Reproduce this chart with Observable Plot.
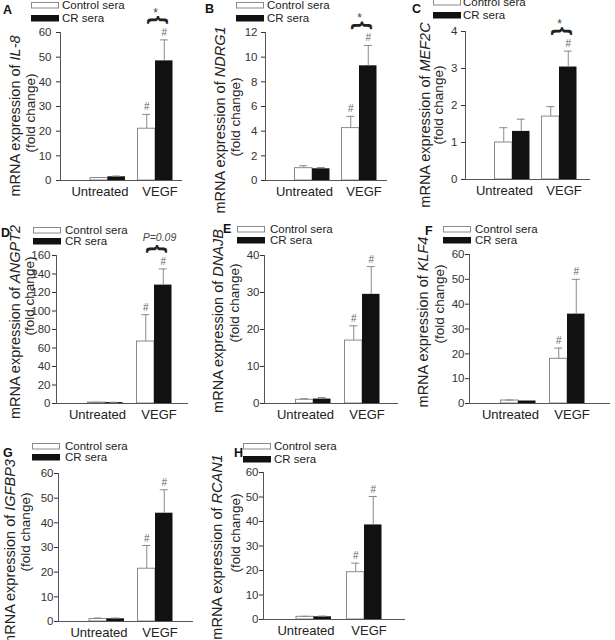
<!DOCTYPE html>
<html><head><meta charset="utf-8">
<script src="https://cdn.jsdelivr.net/npm/d3@7"></script>
<script src="https://cdn.jsdelivr.net/npm/@observablehq/plot@0.6"></script>
<style>
body{margin:0;background:#fff;font-family:"Liberation Sans",Arial,sans-serif;}
#fig{position:relative;width:615px;height:640px;overflow:hidden;background:#fff;}
.panel{position:absolute;}
#overlay{position:absolute;left:0;top:0;pointer-events:none;}
</style></head>
<body><div id="fig"></div>
<script>
// ---------- data ----------
const groups = ["Untreated", "VEGF"];
const seriesNames = ["Control sera", "CR sera"];
const panelLetters = ["A","B","C","D","E","F","G","H"];
const genes = ["IL-8","NDRG1","MEF2C","ANGPT2","DNAJB","KLF4","IGFBP3","RCAN1"];
const yMax  = [60, 12, 4, 160, 40, 60, 60, 60];
const yStep = [10, 2, 1, 20, 10, 10, 10, 10];
// [Untreated, VEGF]
const controlMeans = [[1.0,21.0],[1.0,4.25],[1.0,1.70],[1.0,67],[1.0,17.0],[1.2,18.0],[1.0,21.4],[1.1,19.3]];
const controlErr   = [[0.2,5.8],[0.2,0.95],[0.40,0.27],[0.3,29],[0.3,4.0],[0.2,4.3],[0.4,9.4],[0.2,3.7]];
const crMeans      = [[1.5,48.5],[0.95,9.3],[1.30,3.04],[1.0,128],[1.2,29.5],[1.0,36.0],[1.1,43.9],[1.1,38.6]];
const crErr        = [[0.3,8.5],[0.1,1.65],[0.33,0.43],[0.3,17.5],[0.4,7.5],[0.2,14.0],[0.3,9.5],[0.3,11.6]];
// "#" markers: [Untreated ctrl, Untreated CR, VEGF ctrl, VEGF CR]
const hashFlags = [[0,0,1,1],[0,0,1,1],[0,0,0,1],[0,0,1,1],[0,0,1,1],[0,0,1,1],[0,0,1,1],[0,0,1,1]];
const braceLabels = ["*","*","*","P=0.09",null,null,null,null];

// ---------- layout (panel-relative pixels) ----------
const layout = [
 {px:0,   py:0,   ax:60, ae:182, t:32, b:180, u:47.5, tp:5},
 {px:205, py:0,   ax:60, ae:182, t:32, b:180, u:47,   tp:4},
 {px:410, py:0,   ax:55, ae:180, t:31, b:179, u:47,   tp:4},
 {px:0,   py:215, ax:56, ae:188, t:40, b:188, u:49,   tp:2},
 {px:205, py:215, ax:59, ae:193, t:40, b:188, u:49,   tp:1},
 {px:410, py:215, ax:59, ae:200, t:39, b:188, u:49,   tp:1},
 {px:0,   py:430, ax:58, ae:193, t:43, b:191, u:48.5, tp:1},
 {px:205, py:430, ax:58, ae:200, t:42, b:189, u:50.5, tp:1}
];
const legendPos = [
 {sx:31,s1:2,s2:15,tx:62},{sx:31,s1:2,s2:15,tx:62},{sx:23,s1:-1,s2:12,tx:53},
 {sx:33,s1:12,s2:23,tx:65},{sx:32,s1:11,s2:22,tx:65},{sx:33,s1:11,s2:22,tx:65},
 {sx:32,s1:13,s2:24,tx:65},{sx:38,s1:13,s2:26,tx:69}
];
const letterPos = [[3,14],[0,13],[2,13],[1,22],[18,18],[15,20],[3,27],[29,27]];
const ylabPos = [
 [15,116,30,113],[15,120,30,117],[15,115,28,105],[15,107,29,81],
 [13,106,29,88],[13,107,29,89],[10,123,25,102],[12,117,30,103]
];

const FONT = "Liberation Sans, Arial, Helvetica, sans-serif";
const fig = document.getElementById("fig");

function panel(i){
  const L = layout[i];
  const W = 205, H = i >= 6 ? 210 : 215;
  const rows = [];
  groups.forEach((g, gi) => {
    rows.push({gi, s:0, m:controlMeans[i][gi], e:controlErr[i][gi]});
    rows.push({gi, s:1, m:crMeans[i][gi], e:crErr[i][gi]});
  });
  const bw = 17.5 / L.u;         // bar width in x units
  const cap = 4 / L.u;           // half cap width
  const cx = d => d.gi + 1 + (d.s === 0 ? -bw/2 : bw/2);
  const hashRows = rows.filter(d => hashFlags[i][d.gi*2 + d.s]);
  const vegfCR = rows.filter(d => d.gi === 1 && d.s === 1);
  const marks = [
    Plot.rect(rows.filter(d => d.s === 0), {x1: d => cx(d) - bw/2, x2: d => cx(d) + bw/2, y1: 0, y2: "m", fill: "white", stroke: "#8a8a8a", strokeWidth: 1}),
    Plot.rect(rows.filter(d => d.s === 1), {x1: d => cx(d) - bw/2, x2: d => cx(d) + bw/2, y1: 0, y2: "m", fill: "#111"}),
    Plot.ruleX(rows, {x: cx, y1: "m", y2: d => d.m + d.e, stroke: "#8a8a8a"}),
    Plot.ruleY(rows, {x1: d => cx(d) - cap, x2: d => cx(d) + cap, y: d => d.m + d.e, stroke: "#8a8a8a"}),
    Plot.text(hashRows, {x: cx, y: d => d.m + d.e, text: () => "#", lineAnchor: "bottom", dy: -4, fontSize: 10, fill: "#666"}),
    Plot.ruleX([0], {stroke: "#555"}),
    Plot.ruleY([0], {stroke: "#555"}),
    Plot.axisY({ticks: d3.range(0, yMax[i] + 1e-9, yStep[i]), tickFormat: d3.format("~g"), tickSize: 4, tickPadding: L.tp, label: null, fontSize: 11.5}),
    // category labels under the axis
    Plot.text([groups[0]], {x: () => 1 + bw, y: () => 0, text: d => d, textAnchor: "end", dx: 3, dy: 11, lineAnchor: "middle", fontSize: 13, fill: "#222"}),
    Plot.text([groups[1]], {x: () => 2, y: () => 0, text: d => d, textAnchor: "middle", dx: 4.5, dy: 11, lineAnchor: "middle", fontSize: 13, fill: "#222"})
  ];
  if (braceLabels[i]) {
    marks.push(Plot.text(vegfCR, {x: () => 2, y: d => d.m + d.e, text: () => "}", rotate: -90, dy: -20, fontSize: 22, fontWeight: "bold", fill: "#222"}));
    const isP = braceLabels[i].startsWith("P");
    marks.push(Plot.text(vegfCR, {x: () => 2, y: d => d.m + d.e, text: () => braceLabels[i], dx: isP ? 5 : 0, dy: isP ? -31 : -27, fontSize: isP ? 10.5 : 12, fontStyle: isP ? "italic" : "normal", fill: "#444"}));
  }
  const svg = Plot.plot({
    width: W, height: H,
    marginLeft: L.ax, marginRight: W - L.ae, marginTop: L.t, marginBottom: H - L.b,
    x: {domain: [0, (L.ae - L.ax) / L.u], axis: null},
    y: {domain: [0, yMax[i]]},
    style: {fontFamily: FONT, fontSize: "12px", color: "#333", background: "transparent", overflow: "visible"},
    marks
  });
  const div = document.createElement("div");
  div.className = "panel";
  div.style.left = L.px + "px"; div.style.top = L.py + "px";
  div.style.width = W + "px"; div.style.height = H + "px";
  div.appendChild(svg);
  fig.appendChild(div);
}
for (let i = 0; i < 8; i++) panel(i);

// overlay: panel letters, legends, y-axis titles
const ov = d3.select(fig).append("svg").attr("id", "overlay")
  .attr("width", 615).attr("height", 640)
  .style("font-family", FONT);
for (let i = 0; i < 8; i++) {
  const L = layout[i];
  const g = ov.append("g").attr("transform", `translate(${L.px},${L.py})`);
  g.append("text").attr("x", letterPos[i][0]).attr("y", letterPos[i][1])
    .attr("font-weight", "bold").attr("font-size", 12.5).attr("fill", "#111").text(panelLetters[i]);
  const lp = legendPos[i];
  [lp.s1, lp.s2].forEach((sy, s) => {
    g.append("rect").attr("x", lp.sx + 0.5).attr("y", sy + 0.5).attr("width", 27).attr("height", 5.5)
      .attr("fill", s === 0 ? "white" : "#111").attr("stroke", s === 0 ? "#8a8a8a" : "#111");
    g.append("text").attr("x", lp.tx).attr("y", sy + 3 + 4.2).attr("font-size", 11.5).attr("fill", "#222")
      .text(seriesNames[s]);
  });
  const yp = ylabPos[i];
  const t1 = g.append("text").attr("transform", `translate(${yp[0]},${yp[1]}) rotate(-90)`)
    .attr("text-anchor", "middle").attr("dominant-baseline", "central").attr("font-size", 14.5).attr("fill", "#222");
  t1.append("tspan").text("mRNA expression of ");
  t1.append("tspan").attr("font-style", "italic").text(genes[i]);
  g.append("text").attr("transform", `translate(${yp[2]},${yp[3]}) rotate(-90)`)
    .attr("text-anchor", "middle").attr("dominant-baseline", "central").attr("font-size", 13.5).attr("fill", "#222")
    .text("(fold change)");
}
</script></body></html>
